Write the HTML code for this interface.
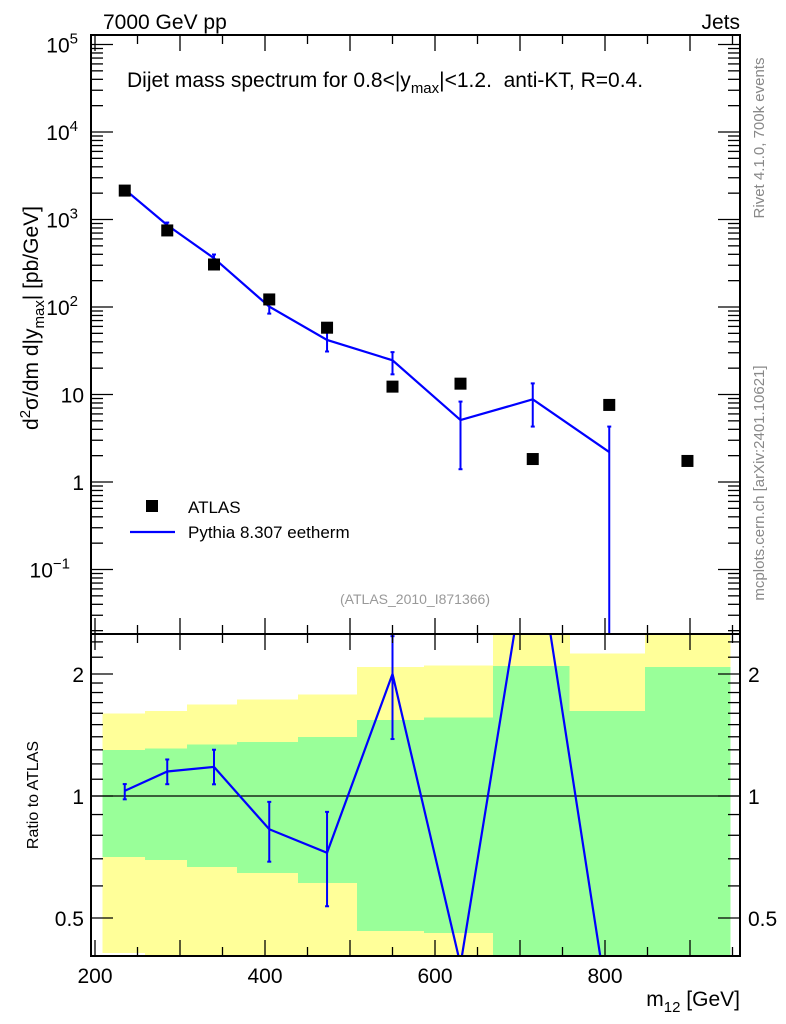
<!DOCTYPE html>
<html><head><meta charset="utf-8"><style>
body{margin:0;background:#fff;}
svg{display:block;font-family:"Liberation Sans",sans-serif;}
</style></head><body>
<svg id="c" width="786" height="1024" viewBox="0 0 786 1024"></svg>
<script>
const xCenters=[235,285,340,405,473,550,630,715,805,897];
const atlas=[2140,750,306,122,58,12.3,13.3,1.83,7.6,1.74];
const pythia=[2204,862,361,101,42,24.6,5.1,8.8,2.2];
const pythiaHi=[2290,923,398,118,53,30.5,8.3,13.4,4.3];
const pythiaLo=[2100,802,327,84,31,17,1.4,4.3,0];
const binEdges=[209,259,308,367,439,508,587,668,758,847,947];
const yellowHi=[1.60,1.62,1.68,1.73,1.78,2.08,2.10,3,2.25,3];
const greenHi=[1.30,1.31,1.34,1.36,1.40,1.54,1.56,2.09,1.62,2.08];
const greenLo=[0.707,0.695,0.668,0.646,0.61,0.465,0.459,0.3,0.3,0.3];
const yellowLo=[0.41,0.40,0.3,0.3,0.3,0.3,0.3,0.3,0.3,0.3];
const mainTicks=["1","10"];

const NS="http://www.w3.org/2000/svg";
const svg=document.getElementById('c');
const L=91,R=740,T=35,MB=634,RB=956;
const X=v=>95+(v-200)*0.85;
const Ym=v=>482-87.5*Math.log10(v);
const Yr=v=>796-405.3*Math.log10(v);
function el(tag,a,parent){const e=document.createElementNS(NS,tag);for(const k in a)e.setAttribute(k,a[k]);(parent||svg).appendChild(e);return e;}
function txt(s,a,parent){const e=el('text',a,parent);e.textContent=s;return e;}

const defs=el('defs',{});
const c1=el('clipPath',{id:'cm'},defs);el('rect',{x:L,y:T,width:R-L,height:MB-T},c1);
const c2=el('clipPath',{id:'cr'},defs);el('rect',{x:L,y:MB,width:R-L,height:RB-MB},c2);

const bands=el('g',{'clip-path':'url(#cr)','shape-rendering':'crispEdges'});


for(let i=0;i<yellowHi.length;i++){
  const x1=X(binEdges[i]),x2=X(binEdges[i+1]);
  const y=el('rect',{x:x1,y:Yr(yellowHi[i]),width:x2-x1+0.5,height:Yr(yellowLo[i])-Yr(yellowHi[i]),fill:'#ffff99'},bands);
  
  
  const g=el('rect',{x:x1,y:Yr(greenHi[i]),width:x2-x1+0.5,height:Yr(greenLo[i])-Yr(greenHi[i]),fill:'#99ff99'},bands);
  
  
}
el('line',{x1:L,x2:R,y1:Yr(1),y2:Yr(1),stroke:'#000','stroke-width':1.2});

const gm=el('g',{'clip-path':'url(#cm)'});
let pts=pythia.map((v,i)=>X(xCenters[i])+','+Ym(v)).join(' ');
const pl=el('polyline',{points:pts,fill:'none',stroke:'#0000ff','stroke-width':2.2},gm);


pythia.forEach((v,i)=>{
  const x=X(xCenters[i]);const yl=pythiaLo[i]>0?Ym(pythiaLo[i]):MB+5;
  const e=el('line',{x1:x,x2:x,y1:Ym(pythiaHi[i]),y2:yl,stroke:'#0000ff','stroke-width':2},gm);
  
  
  el('line',{x1:x-2,x2:x+2,y1:Ym(pythiaHi[i]),y2:Ym(pythiaHi[i]),stroke:'#0000ff','stroke-width':2},gm);
  if(pythiaLo[i]>0)el('line',{x1:x-2,x2:x+2,y1:yl,y2:yl,stroke:'#0000ff','stroke-width':2},gm);
});
atlas.forEach((v,i)=>{
  const r=el('rect',{x:X(xCenters[i])-6,y:Ym(v)-6,width:12,height:12,fill:'#000'},gm);
  
  
});

const gr=el('g',{'clip-path':'url(#cr)'});
const ratio=pythia.map((v,i)=>v/atlas[i]);
const rl=el('polyline',{points:ratio.map((v,i)=>X(xCenters[i])+','+Yr(v)).join(' '),fill:'none',stroke:'#0000ff','stroke-width':2.2},gr);


ratio.forEach((v,i)=>{
  if(i>5)return;
  const x=X(xCenters[i]);const yh=Yr(pythiaHi[i]/atlas[i]),yl=Yr(pythiaLo[i]/atlas[i]);
  const e=el('line',{x1:x,x2:x,y1:yh,y2:yl,stroke:'#0000ff','stroke-width':2},gr);
  
  
  el('line',{x1:x-2,x2:x+2,y1:yh,y2:yh,stroke:'#0000ff','stroke-width':2},gr);
  el('line',{x1:x-2,x2:x+2,y1:yl,y2:yl,stroke:'#0000ff','stroke-width':2},gr);
});

const f1=el('rect',{x:L,y:T,width:R-L,height:MB-T,fill:'none',stroke:'#000','stroke-width':2});

const f2=el('rect',{x:L,y:MB,width:R-L,height:RB-MB,fill:'none',stroke:'#000','stroke-width':2});


function tk(x1,y1,x2,y2){el('line',{x1,y1,x2,y2,stroke:'#000','stroke-width':1.3});}
for(let v=200;v<=950;v+=50){
  const x=X(v);const len=v%100==0?16:9;
  tk(x,T,x,T+len);tk(x,MB,x,MB-len);tk(x,MB,x,MB+len);tk(x,RB,x,RB-len);
}
[200,400,600,800].forEach(v=>{
  const t=txt(String(v),{x:X(v),y:983,'font-size':21,'text-anchor':'middle'});
  
});
for(let d=-2;d<=5;d++){
  for(let m=1;m<=9;m++){
    const v=m*Math.pow(10,d);const y=Ym(v);
    if(y<T||y>MB)continue;
    const len=m==1?22:12;
    tk(L,y,L+len,y);tk(R,y,R-len,y);
  }
}
function ylab(y,base,exp){
  const t=txt(base,{x:exp?78:84,y:y+8,'font-size':21,'text-anchor':'end'});
  if(exp){const s=el('tspan',{dy:-9,'font-size':15},t);s.textContent=exp;t.setAttribute('x',exp.length>1?70:78);}
  
}
ylab(Ym(1e5),'10','5');ylab(Ym(1e4),'10','4');ylab(Ym(1e3),'10','3');ylab(Ym(1e2),'10','2');
ylab(Ym(10),mainTicks[1]);ylab(Ym(1),mainTicks[0]);ylab(Ym(0.1),'10','−1');
[0.5,0.6,0.7,0.8,0.9,1,1.1,1.2,1.3,1.4,1.5,1.6,1.7,1.8,1.9,2,2.2,2.4].forEach(v=>{
  const y=Yr(v);const len=(v==0.5||v==1||v==2)?22:12;tk(L,y,L+len,y);tk(R,y,R-len,y);
});
[[0.5,'0.5'],[1,'1'],[2,'2']].forEach(([v,s])=>{
  const a=txt(s,{x:84,y:Yr(v)+8,'font-size':21,'text-anchor':'end'});
  
  const b=txt(s,{x:748,y:Yr(v)+8,'font-size':21});
  
});

let t;
t=txt('7000 GeV pp',{x:103,y:29,'font-size':21});
t=txt('Jets',{x:740,y:29,'font-size':21,'text-anchor':'end'});
t=el('text',{x:127,y:87,'font-size':21});t.innerHTML='Dijet mass spectrum for 0.8&lt;|y<tspan dy="6" font-size="15">max</tspan><tspan dy="-6">|&lt;1.2.&#160; anti-KT, R=0.4.</tspan>';

t=el('text',{transform:'translate(38,318) rotate(-90)','font-size':21,'text-anchor':'middle'});
t.innerHTML='d<tspan dy="-8" font-size="15">2</tspan><tspan dy="8">σ/dm d|y</tspan><tspan dy="6" font-size="15">max</tspan><tspan dy="-6">| [pb/GeV]</tspan>';

t=txt('Ratio to ATLAS',{transform:'translate(38,795) rotate(-90)','font-size':16,'text-anchor':'middle'});

t=el('text',{x:740,y:1006,'font-size':21,'text-anchor':'end'});t.innerHTML='m<tspan dy="6" font-size="15">12</tspan><tspan dy="-6"> [GeV]</tspan>';

t=txt('Rivet 4.1.0,  700k events',{transform:'translate(764,138) rotate(-90)','font-size':15,fill:'#888','text-anchor':'middle'});

t=txt('mcplots.cern.ch [arXiv:2401.10621]',{transform:'translate(764,483) rotate(-90)','font-size':15,fill:'#888','text-anchor':'middle'});

t=txt('(ATLAS_2010_I871366)',{x:415,y:604,'font-size':14,fill:'#999','text-anchor':'middle'});

const lg=el('g',{});
el('rect',{x:146,y:500,width:12,height:12,fill:'#000'},lg);
txt('ATLAS',{x:188,y:513,'font-size':17},lg);
el('line',{x1:130,x2:175,y1:532,y2:532,stroke:'#0000ff','stroke-width':2.2},lg);
txt('Pythia 8.307 eetherm',{x:188,y:538,'font-size':17},lg);
</script>
</body></html>
